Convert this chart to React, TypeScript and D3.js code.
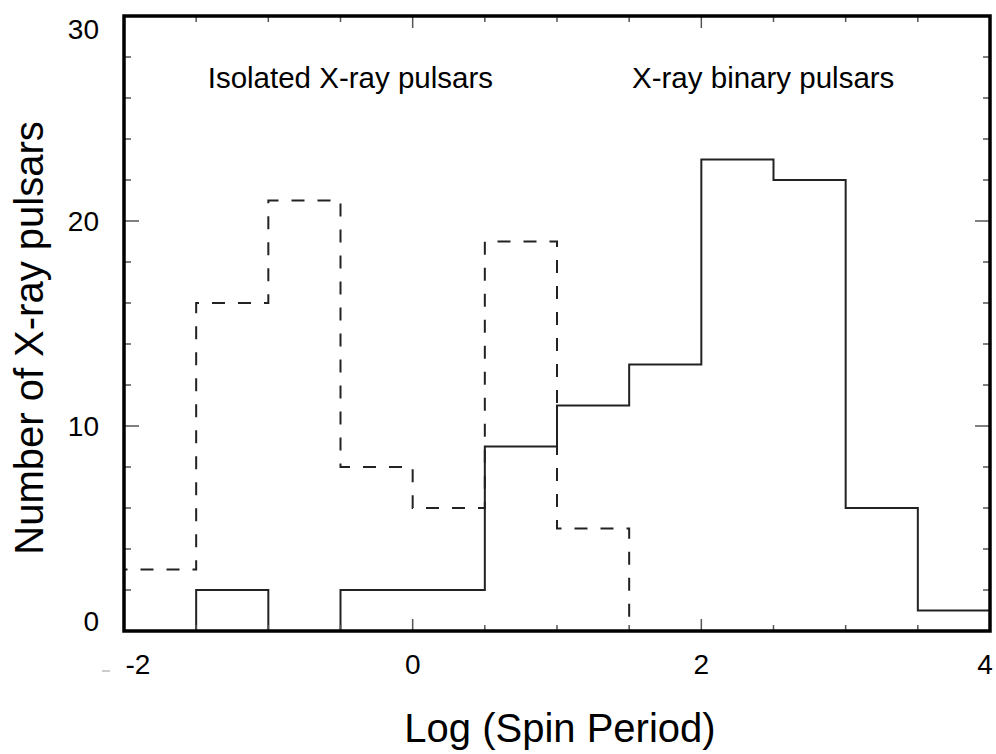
import React, { useEffect, useRef } from 'react';
import * as d3 from 'd3';

// bin left edges, width 0.5 in log(P)
const binEdges = [-2, -1.5, -1, -0.5, 0, 0.5, 1, 1.5, 2, 2.5, 3, 3.5];
const isolatedCounts = [3, 16, 21, 8, 6, 19, 5, 0, 0, 0, 0, 0];
const binaryCounts = [0, 2, 0, 2, 2, 9, 11, 13, 23, 22, 6, 1];
const xTickLabels = [-2, 0, 2, 4];
const yTickLabels = [0, 10, 20, 30];
const annotations = [
  { text: 'Isolated X-ray pulsars', x: -1.42, y: 26.5 },
  { text: 'X-ray binary pulsars', x: 1.52, y: 26.5 },
];

const App = () => {
  const svgRef = useRef(null);

  useEffect(() => {
    const width = 996;
    const height = 754;
    const margin = { top: 16, right: 6, bottom: 123, left: 124 };
    const binW = 0.5;

    const svg = d3.select(svgRef.current);
    svg.selectAll('*').remove();
    svg.attr('width', width).attr('height', height);

    svg.append('rect').attr('width', width).attr('height', height).attr('fill', '#fff');

    const x = d3.scaleLinear().domain([-2, 4]).range([margin.left, width - margin.right]);
    const y = d3.scaleLinear().domain([0, 30]).range([height - margin.bottom, margin.top]);

    const x0 = x(-2), x1 = x(4), y0 = y(0), y1 = y(30);

    // step histogram outline
    const stepPoints = (counts) => {
      const pts = [];
      pts.push([binEdges[0], 0]);
      counts.forEach((c, i) => {
        pts.push([binEdges[i], c]);
        pts.push([binEdges[i] + binW, c]);
      });
      pts.push([binEdges[binEdges.length - 1] + binW, 0]);
      return pts;
    };
    const line = d3.line().x(d => x(d[0])).y(d => y(d[1]));

    svg.append('defs').append('clipPath').attr('id', 'plot')
      .append('rect').attr('x', x0).attr('y', y1).attr('width', x1 - x0).attr('height', y0 - y1);

    const g = svg.append('g').attr('clip-path', 'url(#plot)');

    g.append('path')
      .attr('d', line(stepPoints(isolatedCounts)))
      .attr('fill', 'none')
      .attr('stroke', '#222')
      .attr('stroke-width', 2)
      .attr('stroke-dasharray', '13,13');

    g.append('path')
      .attr('d', line(stepPoints(binaryCounts)))
      .attr('fill', 'none')
      .attr('stroke', '#222')
      .attr('stroke-width', 2);

    // ticks (inward, all four sides)
    const tickColor = '#555';
    d3.range(0, 30.01, 2).forEach(v => {
      const len = v % 10 === 0 ? 15 : 7;
      svg.append('line').attr('x1', x0).attr('x2', x0 + len).attr('y1', y(v)).attr('y2', y(v))
        .attr('stroke', tickColor).attr('stroke-width', 1.5);
      svg.append('line').attr('x1', x1).attr('x2', x1 - len).attr('y1', y(v)).attr('y2', y(v))
        .attr('stroke', tickColor).attr('stroke-width', 1.5);
    });
    d3.range(-2, 4.01, 0.5).forEach(v => {
      const len = v % 2 === 0 ? 12 : 6;
      svg.append('line').attr('x1', x(v)).attr('x2', x(v)).attr('y1', y0).attr('y2', y0 - len)
        .attr('stroke', tickColor).attr('stroke-width', 1.5);
      svg.append('line').attr('x1', x(v)).attr('x2', x(v)).attr('y1', y1).attr('y2', y1 + len)
        .attr('stroke', tickColor).attr('stroke-width', 1.5);
    });

    // frame
    svg.append('rect')
      .attr('x', x0).attr('y', y1).attr('width', x1 - x0).attr('height', y0 - y1)
      .attr('fill', 'none').attr('stroke', '#000').attr('stroke-width', 3.5);

    const font = 'Liberation Sans, Arial, sans-serif';

    // y tick labels
    yTickLabels.forEach(v => {
      const yy = Math.max(y1 + 13, Math.min(y0 - 10, y(v)));
      svg.append('text')
        .attr('x', 99).attr('y', yy)
        .attr('text-anchor', 'end').attr('dominant-baseline', 'central')
        .attr('font-family', font).attr('font-size', 28).attr('fill', '#000')
        .text(v);
    });

    // x tick labels
    xTickLabels.forEach(v => {
      const xx = Math.max(x0 + 14, Math.min(x1 - 5, x(v)));
      svg.append('text')
        .attr('x', xx).attr('y', 664)
        .attr('text-anchor', 'middle').attr('dominant-baseline', 'central')
        .attr('font-family', font).attr('font-size', 28).attr('fill', '#000')
        .text(v);
    });
    // stray mark left of the first label
    svg.append('line').attr('x1', 102).attr('x2', 110).attr('y1', 671).attr('y2', 671)
      .attr('stroke', '#999').attr('stroke-width', 1);

    // axis titles
    svg.append('text')
      .attr('x', 560).attr('y', 742)
      .attr('text-anchor', 'middle')
      .attr('font-family', font).attr('font-size', 40).attr('fill', '#000')
      .text('Log (Spin Period)');

    svg.append('text')
      .attr('transform', 'translate(43, 338) rotate(-90)')
      .attr('text-anchor', 'middle')
      .attr('font-family', font).attr('font-size', 40).attr('fill', '#000')
      .text('Number of X-ray pulsars');

    // annotations
    annotations.forEach(a => {
      svg.append('text')
        .attr('x', x(a.x)).attr('y', y(a.y))
        .attr('font-family', font).attr('font-size', 29.5).attr('fill', '#000')
        .text(a.text);
    });
  }, []);

  return (
    <div style={{ position: 'absolute', left: 0, top: 0 }}>
      <svg ref={svgRef} style={{ display: 'block' }}></svg>
    </div>
  );
};

export default App;
